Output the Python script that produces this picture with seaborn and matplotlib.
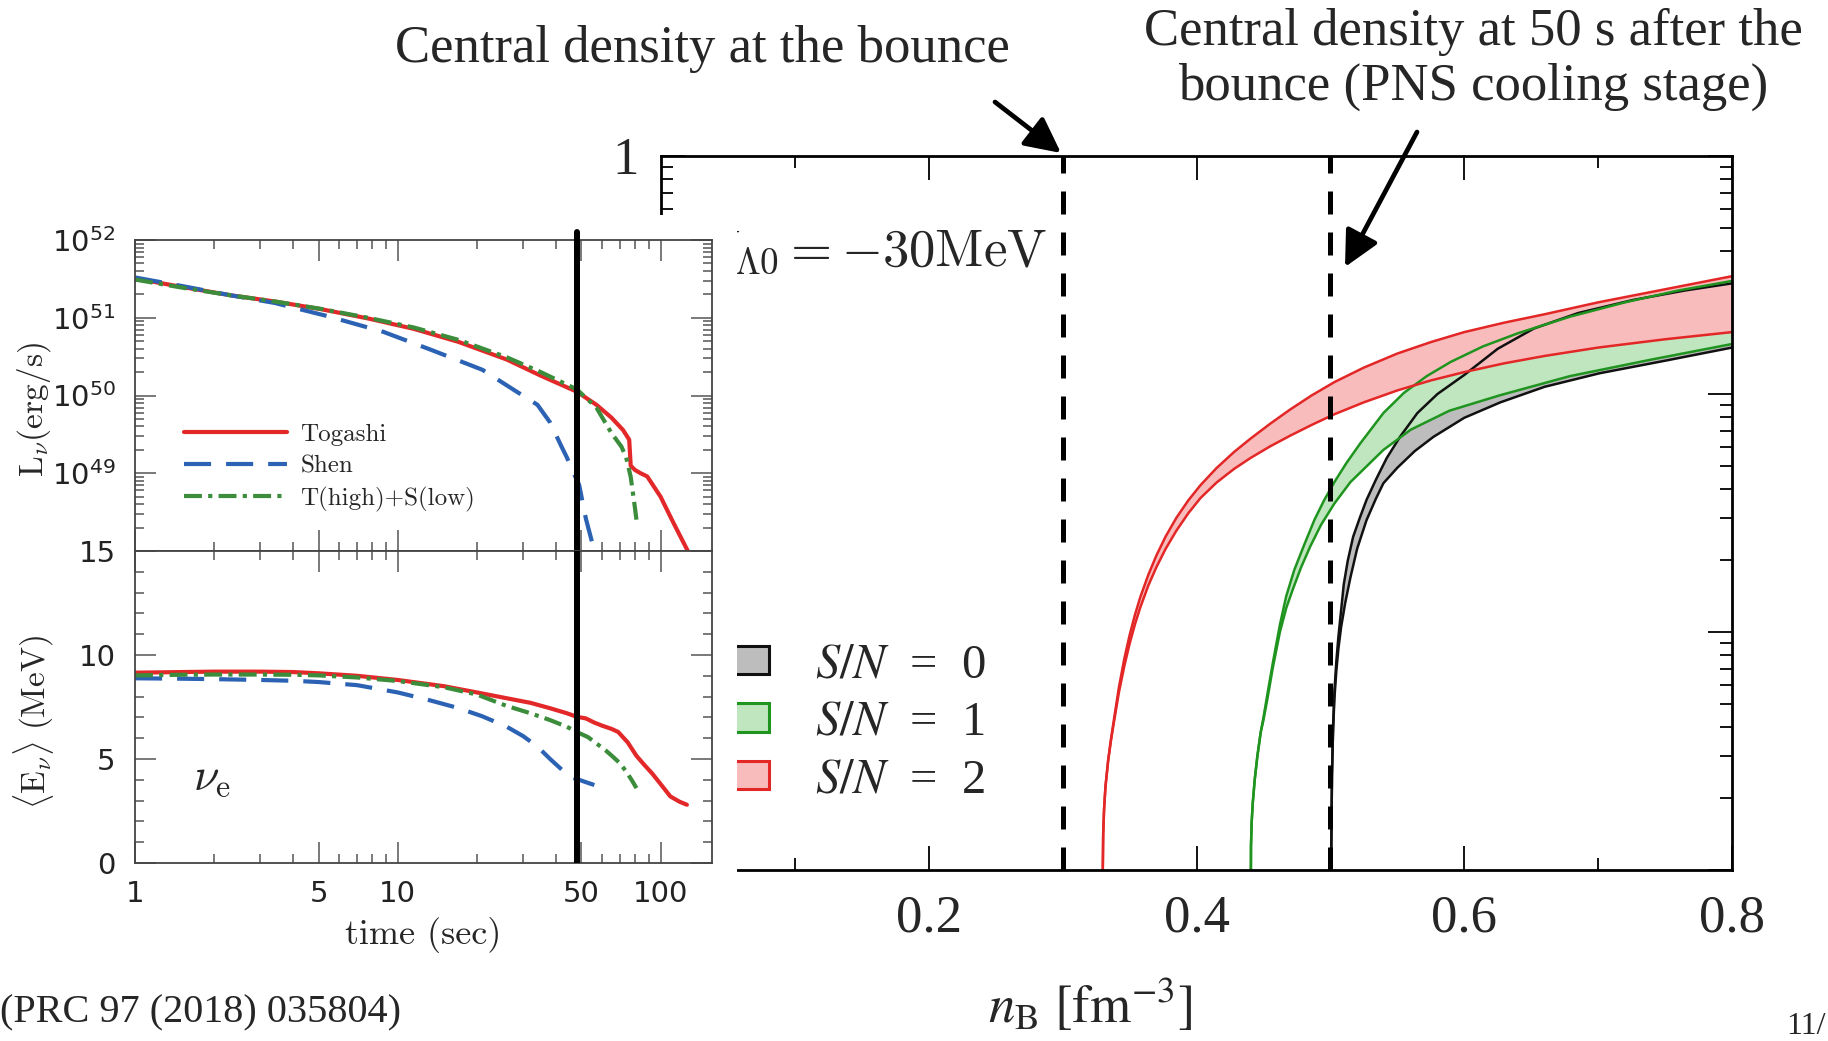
import matplotlib
matplotlib.use("Agg")
import matplotlib.pyplot as plt
import matplotlib.patches as mpatches
from matplotlib.ticker import FixedLocator, FixedFormatter, LogLocator, NullFormatter
import numpy as np
import seaborn as sns

W, H = 1828, 1041

# ---- left panel: nu_e luminosity / mean energy vs time (PRC 97 (2018) 035804) ----
lum_togashi_t = [1, 1.5, 2.3, 3.4, 5.1, 7.7, 11.5, 17, 26, 35, 48, 57, 65, 72, 76, 77, 80, 84, 89, 100, 112, 127]
lum_togashi = [3.2e51, 2.5e51, 1.95e51, 1.62e51, 1.29e51, 9.8e50, 7.2e50, 4.9e50, 2.9e50, 1.8e50, 1.12e50,
               7.6e49, 5.2e49, 3.6e49, 2.7e49, 1.25e49, 1.1e49, 1.0e49, 9.1e48, 5.0e48, 2.3e48, 1.0e48]
lum_shen_t = [1, 1.5, 2.3, 3.4, 5.4, 8.8, 13.3, 21, 28, 34, 38, 42, 44, 46, 49, 52, 56, 58]
lum_shen = [3.3e51, 2.57e51, 1.95e51, 1.55e51, 1.05e51, 6.6e50, 3.9e50, 2.14e50, 1.15e50, 7.6e49, 4.5e49,
            2.2e49, 1.6e49, 1.12e49, 7.1e48, 2.6e48, 1.0e48, 6.3e47]
lum_mix_t = [1, 1.5, 2.3, 3.4, 5.1, 7.7, 11.5, 17, 26, 35, 48, 57, 65, 71, 74, 77, 80, 81]
lum_mix = [3.1e51, 2.45e51, 1.95e51, 1.62e51, 1.3e51, 1.0e51, 7.5e50, 5.2e50, 3.1e50, 2.0e50, 1.2e50,
           7.0e49, 3.3e49, 2.2e49, 1.6e49, 9.0e48, 3.5e48, 2.5e48]

ene_togashi_t = [1, 1.5, 2, 3, 4, 5, 7, 10, 15, 20, 26, 32, 38, 44, 48, 52, 56, 60, 65, 69, 75, 81, 87, 93,
                 100, 109, 118, 126]
ene_togashi = [9.15, 9.18, 9.2, 9.2, 9.18, 9.12, 9.0, 8.8, 8.5, 8.2, 7.92, 7.7, 7.44, 7.2, 7.03, 6.95, 6.75,
               6.6, 6.45, 6.3, 5.8, 5.15, 4.7, 4.3, 3.8, 3.2, 2.95, 2.8]
ene_shen_t = [1, 1.5, 2, 3, 4, 5, 7, 10, 13, 17, 21, 26, 30, 34, 38, 42, 45, 49, 53, 56]
ene_shen = [8.88, 8.86, 8.84, 8.8, 8.76, 8.7, 8.55, 8.2, 7.85, 7.45, 7.05, 6.55, 6.1, 5.6, 5.0, 4.5, 4.15,
            4.0, 3.85, 3.75]
ene_mix_t = [1, 1.5, 2, 3, 4, 5, 7, 10, 15, 20, 26, 32, 38, 44, 48, 53, 57, 62, 66, 70, 74, 78, 81]
ene_mix = [9.02, 9.05, 9.06, 9.06, 9.05, 9.02, 8.92, 8.75, 8.45, 8.1, 7.55, 7.2, 6.87, 6.55, 6.3, 6.05, 5.75,
           5.4, 5.1, 4.8, 4.4, 3.95, 3.6]

t_mark = 48.2  # 50 s marker

# ---- right panel: bands vs n_B (upper/lower edge of each S/N band) ----
sn0_upper_nb = [0.5003, 0.5007, 0.5012, 0.502, 0.503, 0.5045, 0.506, 0.508, 0.510, 0.513, 0.517, 0.522, 0.527,
                0.534, 0.542, 0.552, 0.565, 0.580, 0.600, 0.625, 0.652, 0.685, 0.726, 0.765, 0.800]
sn0_upper = [3.16e-4, 1.26e-3, 2.51e-3, 3.98e-3, 5.62e-3, 7.59e-3, 9.55e-3, 0.0123, 0.01585, 0.01995, 0.02512,
             0.0302, 0.03589, 0.04365, 0.0537, 0.06607, 0.08318, 0.1, 0.1202, 0.1549, 0.1884, 0.2188, 0.2483,
             0.2723, 0.2917]
sn0_lower_nb = [0.5003, 0.5007, 0.5012, 0.502, 0.503, 0.5045, 0.506, 0.508, 0.511, 0.515, 0.520, 0.527, 0.534,
                0.5396, 0.550, 0.563, 0.577, 0.600, 0.627, 0.660, 0.701, 0.750, 0.800]
sn0_lower = [3.16e-4, 1.26e-3, 2.51e-3, 3.8e-3, 5.25e-3, 6.92e-3, 8.51e-3, 0.01047, 0.01318, 0.01698, 0.02239,
             0.02951, 0.03631, 0.04217, 0.04898, 0.05754, 0.06607, 0.07943, 0.09226, 0.1072, 0.1222, 0.138,
             0.1567]

sn1_upper_nb = [0.4403, 0.4407, 0.4412, 0.442, 0.4435, 0.4455, 0.448, 0.450, 0.453, 0.457, 0.4623, 0.467, 0.473,
                0.480, 0.488, 0.495, 0.503, 0.512, 0.522, 0.5396, 0.555, 0.572, 0.590, 0.614, 0.640, 0.679,
                0.720, 0.760, 0.800]
sn1_upper = [3.16e-4, 1.26e-3, 1.585e-3, 1.905e-3, 2.4e-3, 3.02e-3, 3.8e-3, 4.365e-3, 5.495e-3, 7.41e-3,
             0.01072, 0.01413, 0.0182, 0.02291, 0.02951, 0.03548, 0.04266, 0.05129, 0.06166, 0.08318, 0.1012,
             0.1189, 0.1365, 0.1585, 0.1799, 0.2113, 0.2427, 0.2723, 0.2985]
sn1_lower_nb = [0.4403, 0.4407, 0.4412, 0.442, 0.4435, 0.4455, 0.448, 0.450, 0.453, 0.457, 0.4623, 0.467, 0.472,
                0.478, 0.485, 0.493, 0.503, 0.515, 0.5396, 0.560, 0.589, 0.627, 0.679, 0.740, 0.800]
sn1_lower = [3.16e-4, 1.26e-3, 1.585e-3, 1.905e-3, 2.4e-3, 3.02e-3, 3.8e-3, 4.266e-3, 5.248e-3, 7.08e-3, 0.01,
             0.01259, 0.01514, 0.01862, 0.02291, 0.02818, 0.03467, 0.04266, 0.05821, 0.07079, 0.08511, 0.0989,
             0.1189, 0.1396, 0.1622]

sn2_nb = [0.3298, 0.3300, 0.3303, 0.3310, 0.332, 0.334, 0.336, 0.338, 0.342, 0.346, 0.350, 0.354, 0.358, 0.364,
          0.370, 0.377, 0.385, 0.394, 0.403, 0.415, 0.428, 0.440, 0.455, 0.470, 0.486, 0.503, 0.525, 0.550,
          0.575, 0.600, 0.630, 0.660, 0.700, 0.750, 0.800]
sn2_upper = [3.16e-4, 1.0e-3, 1.413e-3, 1.82e-3, 2.239e-3, 2.884e-3, 3.508e-3, 4.169e-3, 5.834e-3, 7.691e-3,
             9.683e-3, 0.0118, 0.014, 0.01738, 0.02094, 0.02523, 0.0302, 0.03581, 0.0414, 0.04887, 0.05702,
             0.06471, 0.07499, 0.0861, 0.09863, 0.1122, 0.1291, 0.1479, 0.1652, 0.182, 0.1995, 0.2163, 0.2427,
             0.2754, 0.3126]
sn2_lower = [3.16e-4, 1.0e-3, 1.413e-3, 1.82e-3, 2.239e-3, 2.884e-3, 3.467e-3, 4.074e-3, 5.559e-3, 7.161e-3,
             8.913e-3, 0.01076, 0.01268, 0.01567, 0.01871, 0.02239, 0.02667, 0.03162, 0.03656, 0.04246, 0.04842,
             0.0537, 0.06026, 0.06683, 0.07413, 0.08222, 0.09226, 0.1035, 0.114, 0.1236, 0.1346, 0.1445, 0.1567,
             0.1698, 0.182]

nb_marks = [0.3, 0.5]  # bounce / 50 s central densities

RED, BLUE, GREEN = '#e3282a', '#2b62b3', '#3b8d3b'
SERIF = 'Liberation Serif'


def px_box(x0, y0, x1, y1):
    return [x0 / W, 1 - y1 / H, (x1 - x0) / W, (y1 - y0) / H]


def fig_xy(x, y):
    return (x / W, 1 - y / H)


sns.set_style('ticks')
plt.rcParams['font.family'] = ['DejaVu Sans']

fig = plt.figure(figsize=(W / 100, H / 100), dpi=100)
fig.patch.set_facecolor('white')

# ================= right panel =================
ax_r = fig.add_axes(px_box(661, 156, 1732, 870), zorder=0)
ax_r.set_yscale('log')
ax_r.set_xlim(0, 0.8)
ax_r.set_ylim(1e-3, 1)

bands = [
    ('$S/N$\u2002=\u20020', sn0_upper_nb, sn0_upper, sn0_lower_nb, sn0_lower, '#bdbdbd', '#111111'),
    ('$S/N$\u2002=\u20021', sn1_upper_nb, sn1_upper, sn1_lower_nb, sn1_lower, '#bfe6bf', '#1f941f'),
    ('$S/N$\u2002=\u20022', sn2_nb, sn2_upper, sn2_nb, sn2_lower, '#f9bcbc', '#e32626'),
]
for _, xu, yu, xl, yl, face, edge in bands:
    ax_r.fill(np.r_[xu, xl[::-1]], np.r_[yu, yl[::-1]], facecolor=face, edgecolor='none', zorder=1)
for _, xu, yu, xl, yl, face, edge in bands:
    for xs, ys in ((xu, yu), (xl, yl)):
        sns.lineplot(x=xs, y=ys, ax=ax_r, color=edge, lw=1.8, estimator=None, sort=False, zorder=2)

for nb in nb_marks:
    ax_r.axvline(nb, color='black', lw=3.6, linestyle=(0, (4.6, 3.6)), zorder=3)

ax_r.xaxis.set_major_locator(FixedLocator([0.2, 0.4, 0.6, 0.8]))
ax_r.xaxis.set_major_formatter(FixedFormatter(['0.2', '0.4', '0.6', '0.8']))
ax_r.xaxis.set_minor_locator(FixedLocator([0.1, 0.3, 0.5, 0.7]))
ax_r.yaxis.set_major_locator(FixedLocator([1e-3, 1e-2, 1e-1, 1]))
# only the top label survives above the inserted figure
ax_r.yaxis.set_major_formatter(FixedFormatter(['', '', '', '1']))
ax_r.yaxis.set_minor_locator(LogLocator(base=10, subs=np.arange(2, 10), numticks=20))
ax_r.yaxis.set_minor_formatter(NullFormatter())
ax_r.tick_params(which='both', direction='in', top=True, right=True, width=1.3, color='black',
                 labelsize=38, labelfontfamily=SERIF)
ax_r.tick_params(which='major', length=17)
ax_r.tick_params(which='minor', length=8.5)
ax_r.tick_params(axis='x', pad=18)
ax_r.tick_params(axis='y', pad=16)
for sp in ax_r.spines.values():
    sp.set_linewidth(2.0)
    sp.set_color('black')

handles = [mpatches.Patch(facecolor=face, edgecolor=edge, lw=2.2, label=lab)
           for lab, _, _, _, _, face, edge in bands]
leg = ax_r.legend(handles=handles, loc='upper left', bbox_to_anchor=fig_xy(729, 643),
                  bbox_transform=fig.transFigure, frameon=False, prop={'family': SERIF, 'size': 35},
                  handlelength=0.82, handleheight=0.52, handletextpad=0.95, labelspacing=0.28,
                  borderpad=0, borderaxespad=0)
for txt in leg.get_texts():
    txt.set_math_fontfamily('stix')

fig.text(1047 / W, 1 - 265 / H, r'$U_{\Lambda0} = -30\mathrm{MeV}$', ha='right', va='baseline',
         fontsize=38, math_fontfamily='cm', zorder=0.5)

# white backdrop of the inserted left figure
fig.add_artist(mpatches.Rectangle(fig_xy(0, 960), 737 / W, (960 - 215) / H, transform=fig.transFigure,
                                  facecolor='white', edgecolor='none', zorder=1))

# ================= left panels =================
ax_lt = fig.add_axes(px_box(135, 240, 712, 551), zorder=2)
ax_lb = fig.add_axes(px_box(135, 551, 712, 863), zorder=2)

for ax in (ax_lt, ax_lb):
    ax.set_xscale('log')
    ax.set_xlim(1, 157)

ax_lt.set_yscale('log')
ax_lt.set_ylim(1e48, 1e52)
ax_lb.set_ylim(0, 15)

series = [
    ('Togashi', lum_togashi_t, lum_togashi, ene_togashi_t, ene_togashi, RED, '-'),
    ('Shen', lum_shen_t, lum_shen, ene_shen_t, ene_shen, BLUE, (0, (6.5, 3.6))),
    ('T(high)+S(low)', lum_mix_t, lum_mix, ene_mix_t, ene_mix, GREEN, (0, (4.3, 1.5, 1.0, 1.5))),
]
for name, tl, lv, te, ev, col, ls in series:
    sns.lineplot(x=tl, y=lv, ax=ax_lt, color=col, lw=3.0, linestyle=ls, label=name,
                 estimator=None, sort=False)
    sns.lineplot(x=te, y=ev, ax=ax_lb, color=col, lw=3.0, linestyle=ls, estimator=None, sort=False)

ax_lt.axvline(t_mark, ymin=0, ymax=1.025, color='black', lw=4.3, clip_on=False, zorder=5)
ax_lb.axvline(t_mark, color='black', lw=4.3, zorder=5)

for ax in (ax_lt, ax_lb):
    ax.xaxis.set_major_locator(FixedLocator([1, 5, 10, 50, 100]))
    ax.xaxis.set_major_formatter(FixedFormatter(['1', '5', '10', '50', '100']))
    ax.xaxis.set_minor_locator(FixedLocator([2, 3, 4, 6, 7, 8, 9, 20, 30, 40, 60, 70, 80, 90]))
    ax.xaxis.set_minor_formatter(NullFormatter())
    ax.tick_params(which='both', direction='in', top=True, right=True, width=1.1, color='#555555',
                   labelsize=21, labelcolor='#222222')
    ax.tick_params(which='major', length=15)
    ax.tick_params(which='minor', length=6.5)
    ax.tick_params(axis='y', pad=14)
    ax.tick_params(axis='x', pad=12)
    for sp in ax.spines.values():
        sp.set_linewidth(1.3)
        sp.set_color('#444444')

ax_lt.tick_params(axis='x', labelbottom=False)
ax_lt.yaxis.set_major_locator(FixedLocator([1e48, 1e49, 1e50, 1e51, 1e52]))
ax_lt.yaxis.set_major_formatter(FixedFormatter(['', r'$10^{49}$', r'$10^{50}$', r'$10^{51}$', r'$10^{52}$']))
ax_lt.yaxis.set_minor_locator(LogLocator(base=10, subs=np.arange(2, 10), numticks=20))
ax_lt.yaxis.set_minor_formatter(NullFormatter())

ax_lb.yaxis.set_major_locator(FixedLocator([0, 5, 10, 15]))
ax_lb.yaxis.set_minor_locator(FixedLocator(list(range(16))))

ax_lt.set_ylabel(r'$\mathrm{L}_\nu\mathrm{(erg/s)}$', fontsize=24, math_fontfamily='cm', va='center')
ax_lt.yaxis.set_label_coords((34 - 135) / 577, (551 - 410) / 311)
ax_lb.set_ylabel(r'$\langle\mathrm{E}_\nu\rangle\ \mathrm{(MeV)}$', fontsize=24, math_fontfamily='cm',
                 va='center')
ax_lb.yaxis.set_label_coords((34 - 135) / 577, (863 - 722) / 312)
ax_lb.set_xlabel('time (sec)', fontfamily='cmr10', fontsize=26, va='top')
ax_lb.xaxis.set_label_coords(0.5, (863 - 917) / 312)

ax_lb.text((193 - 135) / 577, (863 - 790) / 312, r'$\nu_\mathrm{e}$', transform=ax_lb.transAxes,
           fontsize=33, math_fontfamily='cm', va='baseline', ha='left')

ax_lt.legend(loc='upper left', bbox_to_anchor=((184 - 135) / 577, (551 - 423) / 311), frameon=False,
             prop={'family': 'cmr10', 'size': 18}, handlelength=4.1, handletextpad=0.55, labelspacing=0.37,
             borderpad=0, borderaxespad=0)

# ================= slide texts =================
fig.text(395 / W, 1 - 62 / H, 'Central density at the bounce', fontfamily=SERIF, fontsize=38,
         ha='left', va='baseline')
fig.text(1473 / W, 1 - 45 / H, 'Central density at 50 s after the', fontfamily=SERIF, fontsize=38,
         ha='center', va='baseline')
fig.text(1473 / W, 1 - 100 / H, 'bounce (PNS cooling stage)', fontfamily=SERIF, fontsize=38,
         ha='center', va='baseline')
fig.text(1090 / W, 1 - 1023 / H, r'$n_\mathrm{B}\ [\mathrm{fm}^{-3}]$', math_fontfamily='stix',
         fontsize=38, ha='center', va='baseline')
fig.text(0, 1 - 1022 / H, '(PRC 97 (2018) 035804)', fontfamily=SERIF, fontsize=29, ha='left',
         va='baseline')
fig.text(1786 / W, 1 - 1034 / H, '11/', fontfamily=SERIF, fontsize=23, ha='left', va='baseline')

arrow_kw = dict(arrowstyle='-|>,head_length=0.9,head_width=0.45', lw=3.4, color='black',
                mutation_scale=24, shrinkA=0, shrinkB=0)
ax_r.annotate('', xy=fig_xy(1061, 153), xycoords='figure fraction', xytext=fig_xy(995, 102),
              textcoords='figure fraction', arrowprops=arrow_kw, annotation_clip=False)
ax_r.annotate('', xy=fig_xy(1345, 267), xycoords='figure fraction', xytext=fig_xy(1417, 132),
              textcoords='figure fraction', arrowprops=arrow_kw, annotation_clip=False)

fig.savefig('out.png', dpi=100, facecolor='white')
